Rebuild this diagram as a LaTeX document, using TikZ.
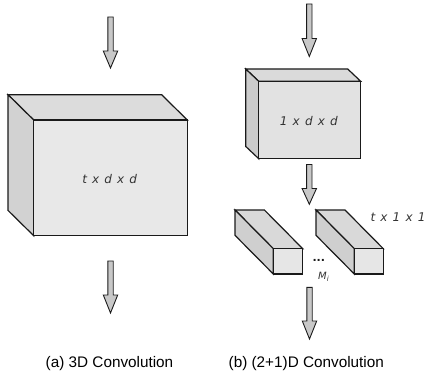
\documentclass[tikz,border=0pt]{standalone}
\usepackage{fontspec}
\setmainfont{Liberation Sans}
\newfontfamily\boxfont[WordSpace=1.35]{DejaVu Sans Oblique}
\newfontfamily\dotfont{DejaVu Sans Bold}
\definecolor{edgecol}{HTML}{1A1A1A}
\definecolor{txtcol}{HTML}{333333}
\definecolor{arrfill}{HTML}{C8C8C8}
\definecolor{bigtop}{HTML}{DCDCDC}
\definecolor{bigside}{HTML}{D2D2D2}
\definecolor{bigfront}{HTML}{E8E8E8}
\definecolor{midtop}{HTML}{DADADA}
\definecolor{midside}{HTML}{CCCCCC}
\definecolor{midfront}{HTML}{E2E2E2}
\definecolor{rodtop}{HTML}{D9D9D9}
\definecolor{rodside}{HTML}{CFCFCF}
\definecolor{rodfront}{HTML}{E6E6E6}
\tikzset{
  faceline/.style={draw=edgecol, line width=1.2pt, line join=miter},
  arrowstyle/.style={draw=edgecol, fill=arrfill, line width=0.9pt, line join=miter},
  boxtext/.style={text=txtcol, font=\boxfont\fontsize{12}{14}\selectfont, inner sep=0pt},
  captext/.style={text=black, font=\fontsize{15.3}{18}\selectfont, inner sep=0pt, anchor=base},
}
% #1 x centre, #2 shaft top, #3 head start, #4 tip
\newcommand\myblockarrow[4]{%
  \draw[arrowstyle] ({#1-2.7},#2) -- ({#1+2.7},#2) -- ({#1+2.7},#3) -- ({#1+7.2},#3)
    -- (#1,#4) -- ({#1-7.2},#3) -- ({#1-2.7},#3) -- cycle;}
% front rect (#1,#2)-(#3,#4), back offset (#5,#6), colours top #7, side #8, front #9
\newcommand\mycuboid[9]{%
  \draw[faceline, fill=#7] (#1,#2) -- ({#1+#5},{#2+#6}) -- ({#3+#5},{#2+#6}) -- (#3,#2) -- cycle;
  \draw[faceline, fill=#8] (#1,#2) -- ({#1+#5},{#2+#6}) -- ({#1+#5},{#4+#6}) -- (#1,#4) -- cycle;
  \draw[faceline, fill=#9] (#1,#2) rectangle (#3,#4);}
\begin{document}
\begin{tikzpicture}[x=1pt,y=-1pt]
\useasboundingbox (0,0) rectangle (425,385);
% (a) 3D convolution
\myblockarrow{110.5}{17}{51}{68}
\mycuboid{33.7}{120}{187.3}{235.7}{-25.7}{-25.3}{bigtop}{bigside}{bigfront}
\node[boxtext] (ta) at (109.7,179) {t x d x d};
\myblockarrow{110.5}{261}{295}{313}
% (b) (2+1)D convolution
\myblockarrow{309.3}{4}{38.5}{56.5}
\mycuboid{258.7}{81.3}{360.7}{158.7}{-13}{-12.3}{midtop}{midside}{midfront}
\node[boxtext] (tb) at (308.8,121) {1 x d x d};
\myblockarrow{309.3}{164.5}{188.5}{204.3}
\mycuboid{273.3}{248.7}{302.7}{274}{-38.3}{-38.7}{rodtop}{rodside}{rodfront}
\mycuboid{354.3}{248.7}{383.3}{274}{-38.3}{-38.7}{rodtop}{rodside}{rodfront}
\node[text=edgecol, font=\dotfont\fontsize{11}{13}\selectfont, inner sep=0pt] (dots) at (318.8,260.5) {...};
\node[boxtext, font=\boxfont\fontsize{10}{12}\selectfont] (mi) at (323.5,277) {M\raisebox{-0.35ex}{\fontsize{7}{8}\selectfont i}};
\node[boxtext] (tc) at (398,217) {t x 1 x 1};
\myblockarrow{309.5}{287.3}{321}{339}
% captions
\node[captext] (ca) at (109.5,367.5) {(a) 3D Convolution};
\node[captext] (cb) at (306.3,367.5) {(b) (2+1)D Convolution};
\end{tikzpicture}
\end{document}
